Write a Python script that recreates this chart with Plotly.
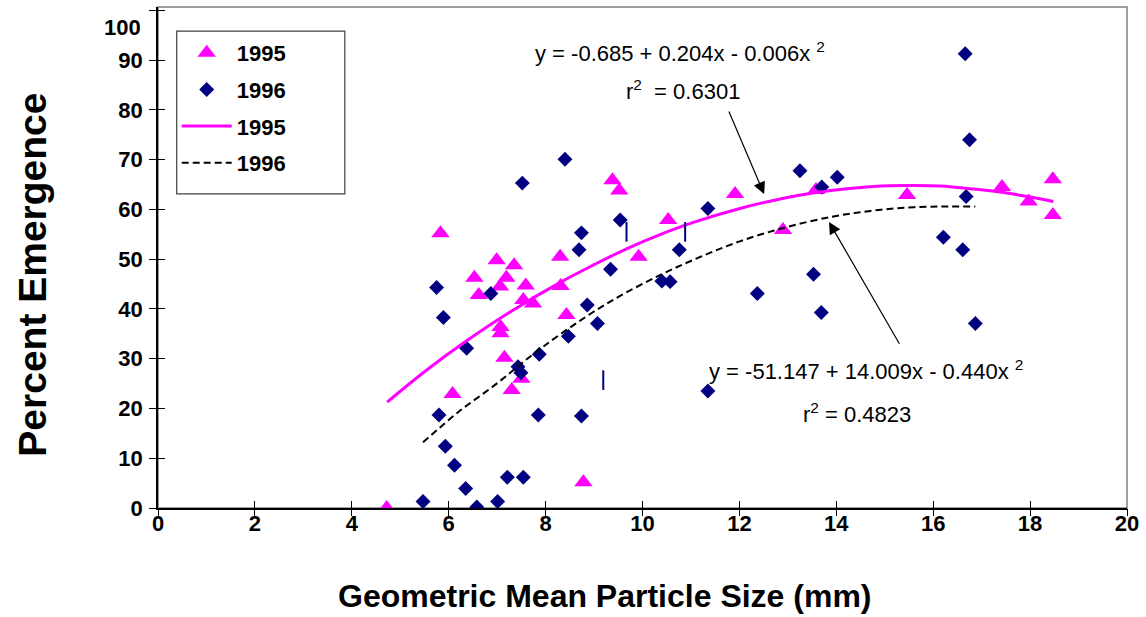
import plotly.graph_objects as go

# ---------------- data ----------------
# 1995 observations (triangles)
x1995 = [4.72, 5.83, 6.08, 6.53, 6.62, 6.99, 7.06, 7.07, 7.07, 7.15, 7.19, 7.30,
         7.35, 7.50, 7.54, 7.59, 7.74, 8.30, 8.31, 8.43, 8.78, 9.38, 9.52, 9.92,
         10.53, 11.91, 12.90, 13.58, 15.46, 17.42, 17.97, 18.47, 18.47]
y1995 = [0.0, 55.2, 22.9, 46.3, 42.8, 49.8, 44.5, 36.4, 35.1, 30.2, 46.3, 23.7,
         48.8, 26.0, 41.8, 44.7, 41.1, 50.5, 44.6, 38.8, 5.2, 65.9, 63.8, 50.5,
         57.9, 63.1, 55.9, 63.9, 62.9, 64.5, 61.6, 66.1, 58.9]

# 1996 observations (diamonds)
x1996 = [5.47, 5.75, 5.80, 5.89, 5.93, 6.12, 6.35, 6.37, 6.58, 6.87, 7.01, 7.21,
         7.43, 7.49, 7.52, 7.54, 7.85, 7.87, 8.40, 8.47, 8.69, 8.74, 8.74, 8.86,
         9.07, 9.34, 9.54, 10.40, 10.57, 10.76, 11.35, 11.35, 12.37, 13.25, 13.53,
         13.69, 13.70, 14.02, 16.21, 16.61, 16.66, 16.68, 16.75, 16.87]
y1996 = [1.3, 44.3, 18.7, 38.3, 12.4, 8.6, 3.9, 32.1, 0.2, 43.1, 1.3, 6.2,
         28.4, 27.2, 65.3, 6.2, 18.7, 30.9, 70.1, 34.5, 51.9, 55.3, 18.5, 40.8,
         37.1, 48.0, 57.9, 45.6, 45.5, 51.9, 60.2, 23.5, 43.1, 67.8, 47.0,
         39.3, 64.5, 66.5, 54.4, 51.9, 91.3, 62.6, 74.0, 37.1]

# fitted trend curves
fit1995_x = [4.73, 5.54, 6.37, 7.30, 8.33, 9.00, 9.67, 10.35, 11.05, 12.01, 12.70,
             13.39, 14.08, 14.77, 15.46, 16.14, 16.83, 17.52, 18.00, 18.48]
fit1995_y = [21.3, 27.7, 33.6, 39.6, 45.5, 48.9, 52.1, 54.9, 57.4, 60.2, 61.8,
             63.1, 64.0, 64.6, 64.8, 64.7, 64.1, 63.3, 62.5, 61.6]
fit1996_x = [5.47, 6.20, 6.99, 7.65, 8.30, 9.30, 10.36, 11.20, 12.01, 12.95,
             13.94, 14.70, 15.46, 16.20, 16.87]
fit1996_y = [13.2, 19.3, 25.0, 30.2, 34.9, 41.3, 46.8, 50.5, 53.6, 56.4,
             58.6, 59.7, 60.4, 60.6, 60.6]

# small stray vertical marks visible in the plot
mark_x = [9.67, 10.88, 9.19]
mark_y = [55.5, 55.5, 25.7]

x_ticks = [0, 2, 4, 6, 8, 10, 12, 14, 16, 18, 20]
y_ticks = [0, 10, 20, 30, 40, 50, 60, 70, 80, 90, 100]
# the top label ("100") is drawn a little below its tick in the reference,
# so it is placed as a separate text
y_tick_labels = ["0", "10", "20", "30", "40", "50", "60", "70", "80", "90", ""]
y_top_label = "100"

x_title = "Geometric Mean Particle Size (mm)"
y_title = "Percent Emergence"
eq1995 = "y = -0.685 + 0.204x - 0.006x <sup>2</sup>"
r2_1995 = "r<sup>2</sup>  = 0.6301"
eq1996 = "y = -51.147 + 14.009x - 0.440x <sup>2</sup>"
r2_1996 = "r<sup>2</sup> = 0.4823"

# ---------------- styling ----------------
MAGENTA = "#FF00FF"
NAVY = "#000080"
ARIAL = "Liberation Sans, Arial, sans-serif"
TICKFONT = dict(family=ARIAL, size=22, color="black", weight="bold")

fig = go.Figure()

fig.add_trace(go.Scatter(
    x=x1995, y=y1995, mode="markers", name="1995", legendgroup="a",
    marker=dict(symbol="triangle-up", size=16, color=MAGENTA, line=dict(width=0)),
))
fig.add_trace(go.Scatter(
    x=x1996, y=y1996, mode="markers", name="1996", legendgroup="b",
    marker=dict(symbol="diamond", size=11.5, color=NAVY, line=dict(width=0)),
))
fig.add_trace(go.Scatter(
    x=fit1995_x, y=fit1995_y, mode="lines", name="1995", legendgroup="c",
    line=dict(color=MAGENTA, width=3, shape="spline"),
))
fig.add_trace(go.Scatter(
    x=fit1996_x, y=fit1996_y, mode="lines", name="1996", legendgroup="d",
    line=dict(color="black", width=2, dash="7px,4px", shape="spline"),
))
fig.add_trace(go.Scatter(
    x=mark_x, y=mark_y, mode="markers", showlegend=False, hoverinfo="skip",
    marker=dict(symbol="line-ns", size=14, line=dict(width=2, color=NAVY)),
))
# invisible trace to activate the overlay axes (other half of crossing ticks)
fig.add_trace(go.Scatter(x=[None], y=[None], xaxis="x2", yaxis="y2",
                         showlegend=False, hoverinfo="skip"))

axis_common = dict(showgrid=False, zeroline=False, automargin=False)
YMAX = 100.7
fig.update_layout(
    width=1146, height=617,
    margin=dict(l=158, r=19, t=7, b=109, autoexpand=False),
    paper_bgcolor="white", plot_bgcolor="white",
    xaxis=dict(
        range=[0, 20], tickvals=x_ticks, ticks="inside", ticklen=7, tickwidth=1,
        tickcolor="black", showline=True, linecolor="black", linewidth=1.5,
        tickfont=TICKFONT, ticklabeloverflow="allow", ticklabelstandoff=-5,
        **axis_common,
    ),
    yaxis=dict(
        range=[0, YMAX], tickvals=y_ticks, ticktext=y_tick_labels, ticks="outside",
        ticklen=7, tickwidth=1, tickcolor="black", showline=True, linecolor="black",
        linewidth=1.5, tickfont=TICKFONT, ticklabeloverflow="allow",
        ticklabelstandoff=2,
        **axis_common,
    ),
    xaxis2=dict(range=[0, 20], tickvals=x_ticks, ticks="outside", ticklen=7,
                tickwidth=1, tickcolor="black", showticklabels=False,
                overlaying="x", anchor="y2", showline=False, **axis_common),
    yaxis2=dict(range=[0, YMAX], tickvals=y_ticks, ticks="inside", ticklen=7,
                tickwidth=1, tickcolor="black", showticklabels=False,
                overlaying="y", anchor="x2", side="left", showline=False, **axis_common),
    legend=dict(
        x=0.0193, y=0.950, xanchor="left", yanchor="top",
        bgcolor="rgba(0,0,0,0)", borderwidth=0, itemwidth=50,
        tracegroupgap=5,
        font=dict(family=ARIAL, size=22, color="black", weight="bold"),
    ),
    showlegend=True,
    shapes=[
        dict(type="rect", xref="paper", yref="paper", x0=0, x1=1, y0=0, y1=1,
             line=dict(color="#808080", width=1.5), layer="below"),
        dict(type="rect", xref="paper", yref="paper", x0=0.0193, x1=0.1928,
             y0=0.627, y1=0.952, line=dict(color="#404040", width=1.2),
             fillcolor="white", layer="below"),
    ],
    annotations=[
        dict(x=-0.0155, y=0.960, xref="paper", yref="paper", text=y_top_label,
             showarrow=False, xanchor="right", yanchor="middle", font=TICKFONT),
        dict(x=0.4613, y=-0.175, xref="paper", yref="paper", text=x_title,
             showarrow=False, xanchor="center", yanchor="middle",
             font=dict(family=ARIAL, size=32, color="black", weight="bold")),
        dict(x=-0.1304, y=0.465, xref="paper", yref="paper", text=y_title,
             showarrow=False, textangle=-90, xanchor="center", yanchor="middle",
             font=dict(family=ARIAL, size=39, color="black", weight="bold")),
        dict(x=10.77, y=91.7, xref="x", yref="y", text=eq1995, showarrow=False,
             font=dict(family=ARIAL, size=22, color="black")),
        dict(x=10.84, y=84.0, xref="x", yref="y", text=r2_1995, showarrow=False,
             font=dict(family=ARIAL, size=22, color="black")),
        dict(x=14.61, y=27.7, xref="x", yref="y", text=eq1996, showarrow=False,
             font=dict(family=ARIAL, size=22, color="black")),
        dict(x=14.42, y=19.1, xref="x", yref="y", text=r2_1996, showarrow=False,
             font=dict(family=ARIAL, size=22, color="black")),
        dict(x=12.51, y=63.1, ax=11.77, ay=80.0, xref="x", yref="y", axref="x",
             ayref="y", text="", showarrow=True, arrowhead=2, arrowsize=2,
             arrowwidth=1.2, arrowcolor="black"),
        dict(x=13.85, y=57.5, ax=15.32, ay=32.7, xref="x", yref="y", axref="x",
             ayref="y", text="", showarrow=True, arrowhead=2, arrowsize=2,
             arrowwidth=1.2, arrowcolor="black"),
    ],
)

fig.write_html("out.html")
